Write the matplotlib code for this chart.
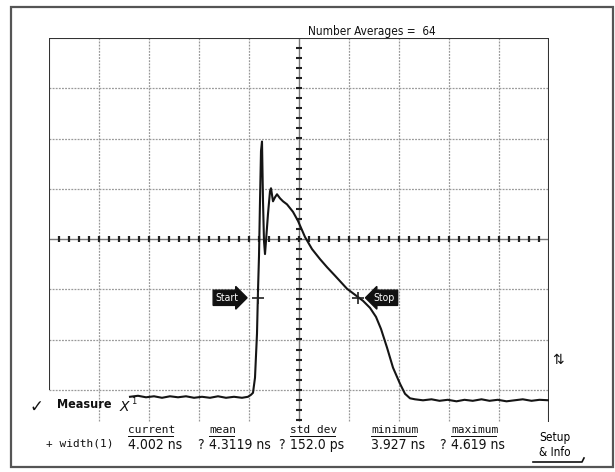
import numpy as np
import matplotlib
matplotlib.use("Agg")
import matplotlib.pyplot as plt
from matplotlib.patches import Rectangle

W, H = 615, 472
NARROW = dict(family="DejaVu Sans", stretch="condensed")
MONO = dict(family="DejaVu Sans Mono")

# averaged trace: time in ns (2 ns/div), amplitude in divisions
trace_t = [3.24, 3.56, 3.88, 4.20, 4.52, 4.84, 5.16, 5.48, 5.80, 6.12, 6.44, 6.76,
           7.08, 7.40, 7.72, 7.96, 8.08, 8.16, 8.24, 8.32, 8.36, 8.40, 8.44, 8.48,
           8.52, 8.56, 8.60, 8.64, 8.68, 8.76, 8.84, 8.88, 8.96, 9.04, 9.12, 9.24,
           9.36, 9.52, 9.76, 9.96, 10.24, 10.52, 10.84, 11.12, 11.44, 11.92, 12.24,
           12.56, 12.84, 13.08, 13.28, 13.52, 13.76, 14.04, 14.24, 14.44, 14.64,
           14.96, 15.30, 15.62, 15.95, 16.30, 16.62, 16.95, 17.30, 17.62, 17.95,
           18.30, 18.62, 18.95, 19.30, 19.62, 20.0]
trace_v = [-3.14, -3.12, -3.15, -3.13, -3.16, -3.13, -3.15, -3.13, -3.16, -3.14, -3.16, -3.13,
           -3.16, -3.14, -3.16, -3.14, -3.10, -3.06, -2.76, -1.88, -1.03, -0.34, 0.75, 1.75,
           1.94, 0.75, -0.04, -0.30, -0.04, 0.50, 0.95, 1.01, 0.75, 0.83, 0.89, 0.81,
           0.75, 0.69, 0.54, 0.36, 0.04, -0.20, -0.40, -0.56, -0.73, -0.99, -1.11,
           -1.23, -1.37, -1.55, -1.79, -2.16, -2.56, -2.88, -3.08, -3.17, -3.19,
           -3.21, -3.19, -3.22, -3.20, -3.23, -3.20, -3.22, -3.19, -3.22, -3.20,
           -3.23, -3.21, -3.19, -3.22, -3.20, -3.21]

# measurement readout
headers = ["current", "mean", "std dev", "minimum", "maximum"]
values = ["4.002 ns", "4.3119 ns", "152.0 ps", "3.927 ns", "4.619 ns"]
flags = ["", "?", "?", "", "?"]
current_width = 4.002
start_t = 8.34
cursor_v = -1.17
n_avg = 64

fig = plt.figure(figsize=(W / 100, H / 100), dpi=100)
fig.patch.set_facecolor("white")


def px(x, y):
    return x / W, 1 - y / H


# outer bezel
fig.patches.append(Rectangle(px(11, 467), 602 / W, 460 / H, transform=fig.transFigure,
                             fill=False, ec="#555555", lw=1.6))

ax = fig.add_axes([49 / W, (H - 440) / H, 500 / W, 402 / H])
ax.set_xlim(0, 20)
ax.set_ylim(-4, 4)
ax.axis("off")

grid_kw = dict(color="#999999", lw=0.9, ls=(0, (1.5, 1)))
for t in [2, 4, 6, 8, 12, 14, 16, 18]:
    ax.vlines(t, -3.63, 4, **grid_kw)
for v in [3, 2, 1, -1, -2, -3]:
    ax.hlines(v, 0, 20, **grid_kw)

# center crosshair with minor ticks
ax.hlines(0, 0, 20, color="#777777", lw=1.0)
ax.vlines(10, -3.63, 4, color="#777777", lw=1.0)
ax.vlines(np.arange(0.4, 20, 0.4), -0.065, 0.065, color="#222222", lw=1.6)
ax.hlines(np.arange(-3.6, 4, 0.2), 9.87, 10.13, color="#222222", lw=1.5)

# graticule border
ax.hlines(4, 0, 20, color="#333333", lw=1.5)
ax.vlines(0, -3, 4, color="#333333", lw=1.5)
ax.vlines(20, -3.65, 4, color="#333333", lw=1.5)

ax.plot(trace_t, trace_v, color="#151515", lw=1.5, solid_joinstyle="round")

# start / stop cursors
stop_t = start_t + current_width
ax.plot([start_t, stop_t], [cursor_v, cursor_v], ls="none", marker="+", ms=9,
        mew=1.2, color="#222222")
ax.text(start_t - 0.75, cursor_v, "Start", ha="right", va="center", color="white",
        fontsize=7.5, **NARROW,
        bbox=dict(boxstyle="rarrow,pad=0.25", fc="#111111", ec="#111111"))
ax.text(stop_t + 0.65, cursor_v, "Stop", ha="left", va="center", color="white",
        fontsize=7.5, **NARROW,
        bbox=dict(boxstyle="larrow,pad=0.25", fc="#111111", ec="#111111"))

fig.text(*px(308, 32), f"Number Averages =  {n_avg}", fontsize=8.5, **NARROW,
         va="center", ha="left", color="#111111")
fig.text(*px(552, 360), "\u21c5", fontsize=10, va="center", ha="left", color="#111111")

# measurement panel
fig.text(*px(30, 407), "\u2713", fontsize=12, va="center", ha="left", color="#111111")
fig.text(*px(57, 405), "Measure", fontsize=9, weight="bold", **NARROW,
         va="center", ha="left", color="#111111")
fig.text(*px(120, 407), "X", fontsize=10, style="italic", va="center", ha="left",
         color="#111111")
fig.text(*px(131, 402), "1", fontsize=6, va="center", ha="left", color="#111111")

hx = [128, 209, 290, 371, 451]
for x, h, v, f in zip(hx, headers, values, flags):
    fig.text(*px(x, 430), h, fontsize=8, **MONO, va="center", ha="left",
             color="#111111")
    fig.patches.append(Rectangle(px(x, 437), len(h) * 6.6 / W, 1.2 / H,
                                 transform=fig.transFigure, fc="#111111", ec="none"))
    fig.text(*px(x, 445), v, fontsize=10, **NARROW, va="center", ha="left",
             color="#111111")
    if f:
        fig.text(*px(x - 12, 445), f, fontsize=10, **NARROW, va="center",
                 ha="left", color="#111111")
fig.text(*px(46, 444), "+ width(1)", fontsize=8, **MONO, va="center", ha="left",
         color="#111111")

fig.text(*px(539, 437), "Setup", fontsize=8.5, **NARROW, va="center", ha="left")
fig.text(*px(539, 453), "& Info", fontsize=8.5, **NARROW, va="center", ha="left")
fig.lines.append(plt.Line2D([533 / W, 582 / W, 584 / W], [1 - 462 / H, 1 - 462 / H, 1 - 458 / H],
                            transform=fig.transFigure, color="#111111", lw=1.2))

fig.savefig("out.png", dpi=100)
